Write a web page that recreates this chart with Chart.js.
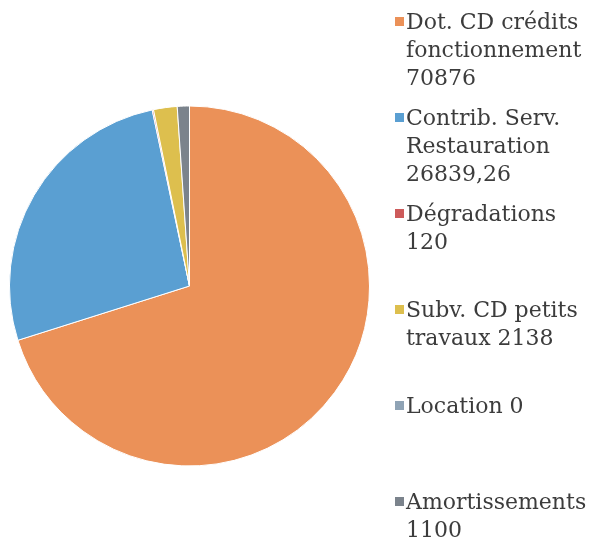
<!DOCTYPE html>
<html>
<head>
<meta charset="utf-8">
<script src="https://cdn.jsdelivr.net/npm/chart.js@4"></script>
<style>
  html, body { margin: 0; padding: 0; background: #fff; }
  #wrap { position: relative; width: 592px; height: 539px; }
  #pie { position: absolute; left: 0; top: 0; }
  #legend { position: absolute; left: 395px; top: 8px; width: 197px;
            font-family: "DejaVu Serif", serif; font-size: 22px; line-height: 28px; color: #3c3c3c; }
  .item { position: relative; height: 96px; padding-left: 11px; }
  .item .box { position: absolute; left: 0; top: 9px; width: 9px; height: 9px; }
</style>
</head>
<body>
<div id="wrap">
  <canvas id="pie" width="592" height="539"></canvas>
  <div id="legend"></div>
</div>
<script>
const categories = ["Dot. CD crédits fonctionnement", "Contrib. Serv. Restauration", "Dégradations", "Subv. CD petits travaux", "Location", "Amortissements"];
const values = [70876, 26839.26, 120, 2138, 0, 1100];
const colors = ["#EB9158", "#5A9FD2", "#CD5B5B", "#DDBF4E", "#8FA3B5", "#7B838C"];

const ctx = document.getElementById("pie").getContext("2d");

// Pie chart
let pieChart = new Chart(ctx, {
    type: 'pie',
    data: {
        labels: categories,
        datasets: [{
            data: values,
            backgroundColor: colors,
            borderColor: '#ffffff',
            borderWidth: 1
        }]
    },
    options: {
        responsive: false,
        animation: false,
        layout: { padding: { left: 9, right: 222, top: 105, bottom: 72 } },
        plugins: {
            legend: { display: false },
            tooltip: { enabled: false }
        }
    }
});

// Legend on the right, one slot per category
const legend = document.getElementById("legend");
categories.forEach((cat, i) => {
    const item = document.createElement("div");
    item.className = "item";
    const box = document.createElement("span");
    box.className = "box";
    box.style.background = colors[i];
    item.appendChild(box);
    item.appendChild(document.createTextNode(cat + " " + String(values[i]).replace(".", ",")));
    legend.appendChild(item);
});
</script>
</body>
</html>
